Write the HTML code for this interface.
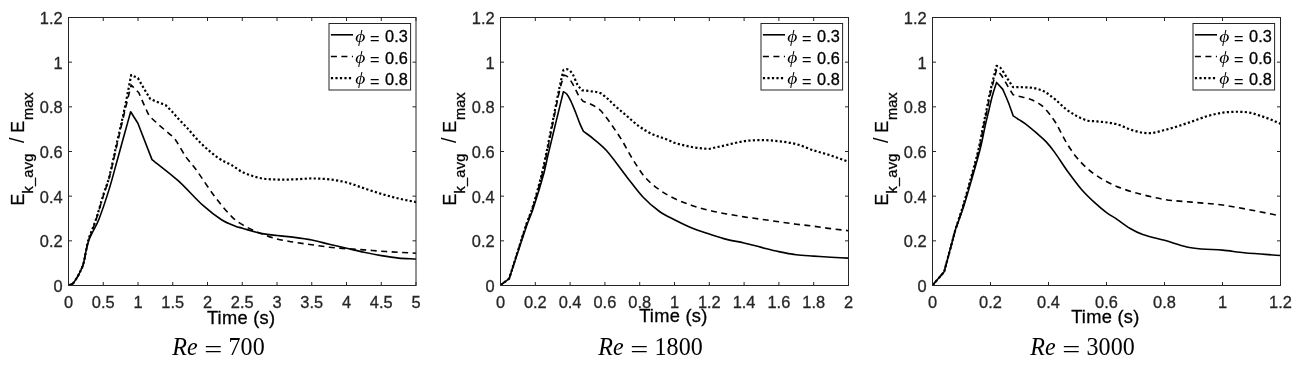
<!DOCTYPE html>
<html><head><meta charset="utf-8"><title>Kinetic energy decay</title>
<style>
html,body{margin:0;padding:0;background:#fff;}
body{width:1300px;height:367px;overflow:hidden;}
svg{display:block;}
.t{font-family:"Liberation Sans",sans-serif;font-size:16.4px;fill:#262626;stroke:#262626;stroke-width:0.3px;}
.l{font-family:"Liberation Sans",sans-serif;font-size:17.6px;fill:#000;stroke:#000;stroke-width:0.3px;}
.xl{font-size:18.3px;letter-spacing:0.25px;}
.s{font-size:14.6px;}
.c{font-family:"Liberation Serif",serif;font-size:25.6px;fill:#000;}
.lg{font-family:"Liberation Sans",sans-serif;font-size:16.3px;fill:#000;stroke:#000;stroke-width:0.3px;}
.phi{font-family:"Liberation Serif","DejaVu Serif",serif;font-style:italic;font-size:16.2px;fill:#000;}
.ax{stroke:#262626;stroke-width:1;fill:none;shape-rendering:auto;}
.cv{stroke:#000;stroke-width:1.6;fill:none;stroke-linejoin:round;}
</style></head><body>
<svg width="1300" height="367" viewBox="0 0 1300 367">
<rect x="0" y="0" width="1300" height="367" fill="#fff"/>

<g>
<path class="cv" d="M68.60 285.10 C69.94 284.65 71.29 284.76 72.63 283.76 C73.58 283.05 74.53 281.38 75.48 279.97 C76.43 278.56 77.38 277.03 78.33 275.28 C79.28 273.54 80.23 271.56 81.18 269.48 C81.83 268.07 82.48 266.92 83.13 264.80 C83.64 263.13 84.14 260.50 84.65 258.11 C85.09 256.04 85.53 253.48 85.97 251.41 C86.48 249.02 86.99 246.59 87.50 244.72 C88.13 242.43 88.75 240.47 89.38 238.92 C90.47 236.23 91.56 234.24 92.65 232.01 C94.71 227.77 96.77 224.88 98.83 219.51 C102.33 210.41 105.83 199.89 109.33 188.62 C111.97 180.11 114.61 169.68 117.25 160.17 C119.57 151.83 121.88 143.41 124.20 135.05 C126.35 127.28 128.51 119.53 130.66 111.76 L137.89 123.21 L152.00 159.62 C160.80 166.72 169.61 173.01 178.41 180.92 C186.61 188.29 194.81 198.07 203.01 205.46 C209.18 211.01 215.34 215.79 221.50 219.74 C226.13 222.70 230.77 224.32 235.40 226.21 C237.72 227.15 240.03 227.56 242.35 228.21 C248.14 229.86 253.93 231.89 259.73 233.12 C265.52 234.35 271.31 234.87 277.10 235.58 C282.89 236.28 288.68 236.62 294.48 237.36 C300.27 238.10 306.06 238.88 311.85 240.04 C317.64 241.19 323.43 242.90 329.23 244.28 C335.02 245.65 340.81 246.95 346.60 248.29 C352.39 249.63 358.18 251.08 363.98 252.31 C369.77 253.53 375.56 254.69 381.35 255.65 C387.14 256.62 392.93 257.55 398.73 258.11 C404.52 258.66 410.31 258.70 416.10 259.00"/>
<path class="cv" d="M68.60 285.10 C69.94 284.65 71.29 284.76 72.63 283.76 C73.58 283.05 74.53 281.38 75.48 279.97 C76.43 278.56 77.38 277.03 78.33 275.28 C79.28 273.54 80.23 271.56 81.18 269.48 C81.83 268.07 82.48 266.92 83.13 264.80 C83.64 263.13 84.14 260.50 84.65 258.11 C85.09 256.04 85.53 253.62 85.97 251.41 C86.44 249.09 86.90 246.42 87.36 244.50 C87.94 242.10 88.52 240.15 89.10 238.48 C90.14 235.46 91.19 233.29 92.23 230.44 C93.67 226.52 95.10 222.67 96.54 218.18 C98.90 210.78 101.26 202.29 103.63 194.75 C105.50 188.77 107.38 184.65 109.26 177.62 C111.81 168.07 114.35 155.92 116.90 145.00 C119.57 133.59 122.23 121.82 124.89 110.65 C127.00 101.81 129.11 93.55 131.22 84.99 L138.80 92.80 C140.72 97.19 142.64 101.69 144.56 105.96 C146.14 109.46 147.71 112.73 149.29 116.11 C151.54 118.16 153.78 120.23 156.03 122.25 C158.88 124.81 161.73 127.36 164.58 129.83 C166.48 131.48 168.38 132.95 170.28 134.63 C171.83 136.00 173.38 136.77 174.94 138.98 C178.57 144.17 182.21 151.54 185.85 156.83 C188.86 161.21 191.87 163.84 194.88 167.98 C201.67 177.30 208.46 188.25 215.24 197.21 C220.80 204.54 226.37 211.21 231.93 216.84 C235.40 220.35 238.88 222.61 242.35 224.64 C248.14 228.04 253.93 230.74 259.73 233.12 C265.52 235.50 271.31 237.40 277.10 238.92 C282.89 240.45 288.68 241.30 294.48 242.27 C300.27 243.23 306.06 243.90 311.85 244.72 C317.64 245.54 323.43 246.51 329.23 247.18 C335.02 247.85 340.81 248.29 346.60 248.74 C352.39 249.18 358.18 249.44 363.98 249.85 C369.77 250.26 375.56 250.78 381.35 251.19 C387.14 251.60 392.93 251.97 398.73 252.31 C404.52 252.64 410.31 252.90 416.10 253.20" stroke-dasharray="6 4.5"/>
<path class="cv" d="M68.60 285.10 C69.94 284.65 71.29 284.76 72.63 283.76 C73.58 283.05 74.53 281.38 75.48 279.97 C76.43 278.56 77.38 277.03 78.33 275.28 C79.28 273.54 80.23 271.56 81.18 269.48 C81.83 268.07 82.48 266.92 83.13 264.80 C83.64 263.13 84.14 260.50 84.65 258.11 C85.09 256.04 85.53 253.72 85.97 251.41 C86.42 249.11 86.86 246.25 87.30 244.28 C87.85 241.79 88.41 239.71 88.96 238.03 C90.01 234.88 91.05 232.57 92.09 229.78 C93.57 225.80 95.06 222.34 96.54 217.73 C98.90 210.37 101.26 201.44 103.63 193.86 C105.43 188.07 107.24 184.54 109.05 177.62 C111.55 168.03 114.05 155.43 116.55 144.33 C119.14 132.89 121.72 122.23 124.30 110.02 C126.60 99.11 128.91 86.65 131.22 74.96 L137.89 78.08 C139.79 81.35 141.69 84.67 143.59 87.89 C145.81 91.66 148.04 95.33 150.26 99.05 C152.81 100.09 155.36 101.17 157.91 102.17 C160.46 103.18 163.00 104.11 165.55 105.07 C167.78 107.30 170.00 109.38 172.22 111.76 C174.45 114.14 176.67 116.94 178.90 119.35 C181.68 122.36 184.46 125.03 187.24 128.05 C191.78 132.98 196.32 138.86 200.86 143.22 C206.77 148.90 212.67 153.97 218.58 158.17 C223.03 161.33 227.48 162.72 231.93 165.30 C235.40 167.33 238.88 170.41 242.35 172.00 C248.14 174.65 253.93 176.76 259.73 178.02 C265.52 179.28 271.31 179.36 277.10 179.58 C282.89 179.80 288.68 179.54 294.48 179.36 C300.27 179.17 306.06 178.47 311.85 178.47 C317.64 178.47 323.43 178.69 329.23 179.36 C335.02 180.03 340.81 180.99 346.60 182.48 C352.39 183.97 358.18 186.39 363.98 188.28 C369.77 190.18 375.56 192.15 381.35 193.86 C387.14 195.57 392.93 197.17 398.73 198.54 C404.52 199.92 410.31 200.92 416.10 202.11" stroke-dasharray="2.2 2.3" style="stroke-width:2.2"/>
<rect class="ax" x="68.50" y="17.50" width="347.50" height="268.00"/>
<path class="ax" d="M68.50 285.50 v-3.50 M68.50 17.50 v3.50 M103.25 285.50 v-3.50 M103.25 17.50 v3.50 M138.00 285.50 v-3.50 M138.00 17.50 v3.50 M172.75 285.50 v-3.50 M172.75 17.50 v3.50 M207.50 285.50 v-3.50 M207.50 17.50 v3.50 M242.25 285.50 v-3.50 M242.25 17.50 v3.50 M277.00 285.50 v-3.50 M277.00 17.50 v3.50 M311.75 285.50 v-3.50 M311.75 17.50 v3.50 M346.50 285.50 v-3.50 M346.50 17.50 v3.50 M381.25 285.50 v-3.50 M381.25 17.50 v3.50 M416.00 285.50 v-3.50 M416.00 17.50 v3.50 M68.50 285.50 h3.50 M416.00 285.50 h-3.50 M68.50 240.83 h3.50 M416.00 240.83 h-3.50 M68.50 196.17 h3.50 M416.00 196.17 h-3.50 M68.50 151.50 h3.50 M416.00 151.50 h-3.50 M68.50 106.83 h3.50 M416.00 106.83 h-3.50 M68.50 62.17 h3.50 M416.00 62.17 h-3.50 M68.50 17.50 h3.50 M416.00 17.50 h-3.50"/>
<text class="t" x="68.50" y="308" text-anchor="middle">0</text>
<text class="t" x="103.25" y="308" text-anchor="middle">0.5</text>
<text class="t" x="138.00" y="308" text-anchor="middle">1</text>
<text class="t" x="172.75" y="308" text-anchor="middle">1.5</text>
<text class="t" x="207.50" y="308" text-anchor="middle">2</text>
<text class="t" x="242.25" y="308" text-anchor="middle">2.5</text>
<text class="t" x="277.00" y="308" text-anchor="middle">3</text>
<text class="t" x="311.75" y="308" text-anchor="middle">3.5</text>
<text class="t" x="346.50" y="308" text-anchor="middle">4</text>
<text class="t" x="381.25" y="308" text-anchor="middle">4.5</text>
<text class="t" x="416.00" y="308" text-anchor="middle">5</text>
<text class="t" x="62.60" y="292.10" text-anchor="end">0</text>
<text class="t" x="62.60" y="247.43" text-anchor="end">0.2</text>
<text class="t" x="62.60" y="202.77" text-anchor="end">0.4</text>
<text class="t" x="62.60" y="158.10" text-anchor="end">0.6</text>
<text class="t" x="62.60" y="113.43" text-anchor="end">0.8</text>
<text class="t" x="62.60" y="68.77" text-anchor="end">1</text>
<text class="t" x="62.60" y="24.10" text-anchor="end">1.2</text>
<text class="l xl" x="241.05" y="323.90" text-anchor="middle">Time (s)</text>
<text class="l" transform="translate(23.60 0) rotate(-90)"><tspan x="-205.45" y="0">E</tspan><tspan class="s" x="-193.5" y="9.7" letter-spacing="0.2">k_avg</tspan><tspan x="-143.0" y="0.8" font-size="20" style="stroke-width:0">/</tspan><tspan x="-132.8" y="0">E</tspan><tspan class="s" x="-120.0" y="9.7">max</tspan></text>
<rect x="329.00" y="23.50" width="81.60" height="66.50" fill="#fff" stroke="#262626" stroke-width="1"/>
<path class="cv" d="M330.90 34.80 h22.1"/>
<text class="phi" transform="translate(355.20 41.50) scale(1.2 1)">ϕ</text>
<text class="lg" x="370.00" y="42.30"><tspan dy="1.6" style="stroke-width:0.1px">=</tspan><tspan dx="5.6" dy="-1.6">0.3</tspan></text>
<path class="cv" d="M330.90 56.45 h22.1" stroke-dasharray="6 4.5"/>
<text class="phi" transform="translate(355.20 62.80) scale(1.2 1)">ϕ</text>
<text class="lg" x="370.00" y="63.60"><tspan dy="1.6" style="stroke-width:0.1px">=</tspan><tspan dx="5.6" dy="-1.6">0.6</tspan></text>
<path class="cv" d="M330.90 78.10 h22.1" stroke-dasharray="2.2 2.3" style="stroke-width:2.2"/>
<text class="phi" transform="translate(355.20 84.10) scale(1.2 1)">ϕ</text>
<text class="lg" x="370.00" y="84.90"><tspan dy="1.6" style="stroke-width:0.1px">=</tspan><tspan dx="5.6" dy="-1.6">0.8</tspan></text>
<text class="c" transform="translate(172.20 354.8) scale(0.94 1)" font-style="italic">Re</text>
<text class="c" transform="translate(204.30 358.0) scale(1.25 1)">=</text>
<text class="c" transform="translate(228.60 354.8) scale(0.94 1)">700</text>
</g>
<g>
<path class="cv" d="M500.60 285.10 L509.19 278.59 C514.90 261.27 520.62 243.32 526.33 226.65 C528.59 220.06 530.85 215.65 533.11 208.81 C536.61 198.21 540.11 186.96 543.61 174.32 C545.11 168.89 546.61 160.94 548.11 154.60 C550.65 143.89 553.18 133.58 555.71 123.14 C558.27 112.61 560.82 102.17 563.38 91.69 C564.57 92.50 565.75 92.67 566.94 94.14 C568.21 95.72 569.48 98.16 570.75 100.83 C572.34 104.19 573.94 108.23 575.53 112.21 C577.11 116.16 578.69 120.82 580.28 124.61 C581.36 127.21 582.44 129.14 583.53 131.40 C586.71 133.78 589.90 135.86 593.09 138.53 C597.61 142.33 602.13 145.66 606.65 150.80 C613.37 158.45 620.09 168.36 626.82 176.90 C632.26 183.83 637.71 191.44 643.16 197.21 C648.60 202.97 654.05 207.56 659.50 211.48 C664.48 215.07 669.47 217.19 674.45 219.74 C680.25 222.70 686.04 225.61 691.84 227.99 C697.63 230.37 703.43 232.12 709.22 234.01 C715.01 235.91 720.81 237.88 726.61 239.37 C732.40 240.86 738.20 241.60 743.99 242.94 C749.78 244.28 755.58 245.95 761.38 247.40 C767.17 248.85 772.97 250.41 778.76 251.64 C784.55 252.86 790.35 254.02 796.14 254.76 C801.94 255.50 807.74 255.69 813.53 256.10 C819.32 256.51 825.12 256.88 830.91 257.21 C836.71 257.55 842.50 257.81 848.30 258.11"/>
<path class="cv" d="M500.60 285.10 L509.19 278.59 C514.90 260.68 520.62 242.12 526.33 224.87 C528.59 218.04 530.85 213.54 533.11 206.35 C536.15 196.69 539.18 186.06 542.22 174.32 C543.72 168.51 545.22 160.93 546.72 153.70 C548.87 143.35 551.02 132.12 553.17 121.58 C555.37 110.78 557.58 99.25 559.78 89.68 C561.15 83.73 562.51 79.91 563.88 75.02 C565.21 75.67 566.55 75.52 567.88 76.96 C569.79 79.03 571.70 82.23 573.62 85.53 C575.20 88.27 576.79 92.44 578.38 95.08 C579.96 97.71 581.54 99.26 583.13 101.35 C585.69 102.31 588.26 102.95 590.83 104.22 C593.67 105.63 596.51 107.06 599.35 109.38 C601.32 110.99 603.29 113.54 605.26 116.00 C607.11 118.32 608.97 120.99 610.82 123.70 C614.47 129.03 618.12 134.17 621.77 140.10 C625.25 145.74 628.73 152.81 632.20 158.39 C636.38 165.08 640.55 172.10 644.72 176.90 C649.65 182.58 654.57 186.26 659.50 189.84 C664.48 193.47 669.47 196.14 674.45 198.54 C680.25 201.34 686.04 203.49 691.84 205.46 C697.63 207.43 703.43 208.95 709.22 210.37 C715.01 211.78 720.81 212.86 726.61 213.94 C732.40 215.01 738.20 215.94 743.99 216.84 C749.78 217.73 755.58 218.47 761.38 219.29 C767.17 220.11 772.97 220.93 778.76 221.74 C784.55 222.56 790.35 223.45 796.14 224.20 C801.94 224.94 807.74 225.46 813.53 226.21 C819.32 226.95 825.12 227.92 830.91 228.66 C836.71 229.40 842.50 230.00 848.30 230.67" stroke-dasharray="6 4.5"/>
<path class="cv" d="M500.60 285.10 L509.19 278.59 C514.90 260.53 520.62 241.83 526.33 224.42 C528.59 217.53 530.85 213.05 533.11 205.68 C535.97 196.35 538.84 185.68 541.70 174.32 C543.20 168.36 544.70 160.93 546.20 153.70 C548.35 143.35 550.50 132.29 552.65 121.58 C554.97 110.03 557.29 97.95 559.60 86.91 C560.90 80.73 562.20 75.58 563.50 69.91 C564.96 69.74 566.42 68.71 567.88 69.38 C569.47 70.11 571.07 71.59 572.66 74.13 C574.25 76.67 575.85 81.89 577.44 84.62 C579.01 87.29 580.57 88.44 582.14 90.35 C585.03 90.65 587.93 90.80 590.83 91.24 C593.99 91.72 597.14 91.69 600.30 93.11 C602.82 94.25 605.34 96.73 607.87 98.91 C610.13 100.87 612.39 103.48 614.65 105.52 C618.30 108.81 621.95 111.78 625.60 114.89 C630.06 118.69 634.52 123.05 638.98 126.26 C643.39 129.44 647.79 132.00 652.20 134.07 C657.30 136.47 662.40 137.66 667.50 139.65 C669.81 140.56 672.13 142.07 674.45 142.77 C680.25 144.53 686.04 145.95 691.84 147.01 C697.43 148.03 703.02 148.35 708.61 149.02 C714.61 147.68 720.61 146.33 726.61 145.00 C732.40 143.72 738.20 142.03 743.99 141.21 C749.78 140.39 755.58 140.10 761.38 140.10 C767.17 140.10 772.97 140.54 778.76 141.21 C784.55 141.88 790.35 142.59 796.14 144.11 C801.94 145.64 807.74 148.46 813.53 150.36 C819.32 152.25 825.12 153.59 830.91 155.49 C836.71 157.38 842.50 159.65 848.30 161.73" stroke-dasharray="2.2 2.3" style="stroke-width:2.2"/>
<rect class="ax" x="500.50" y="17.50" width="348.00" height="268.00"/>
<path class="ax" d="M500.50 285.50 v-3.50 M500.50 17.50 v3.50 M535.30 285.50 v-3.50 M535.30 17.50 v3.50 M570.10 285.50 v-3.50 M570.10 17.50 v3.50 M604.90 285.50 v-3.50 M604.90 17.50 v3.50 M639.70 285.50 v-3.50 M639.70 17.50 v3.50 M674.50 285.50 v-3.50 M674.50 17.50 v3.50 M709.30 285.50 v-3.50 M709.30 17.50 v3.50 M744.10 285.50 v-3.50 M744.10 17.50 v3.50 M778.90 285.50 v-3.50 M778.90 17.50 v3.50 M813.70 285.50 v-3.50 M813.70 17.50 v3.50 M848.50 285.50 v-3.50 M848.50 17.50 v3.50 M500.50 285.50 h3.50 M848.50 285.50 h-3.50 M500.50 240.83 h3.50 M848.50 240.83 h-3.50 M500.50 196.17 h3.50 M848.50 196.17 h-3.50 M500.50 151.50 h3.50 M848.50 151.50 h-3.50 M500.50 106.83 h3.50 M848.50 106.83 h-3.50 M500.50 62.17 h3.50 M848.50 62.17 h-3.50 M500.50 17.50 h3.50 M848.50 17.50 h-3.50"/>
<text class="t" x="500.50" y="308" text-anchor="middle">0</text>
<text class="t" x="535.30" y="308" text-anchor="middle">0.2</text>
<text class="t" x="570.10" y="308" text-anchor="middle">0.4</text>
<text class="t" x="604.90" y="308" text-anchor="middle">0.6</text>
<text class="t" x="639.70" y="308" text-anchor="middle">0.8</text>
<text class="t" x="674.50" y="308" text-anchor="middle">1</text>
<text class="t" x="709.30" y="308" text-anchor="middle">1.2</text>
<text class="t" x="744.10" y="308" text-anchor="middle">1.4</text>
<text class="t" x="778.90" y="308" text-anchor="middle">1.6</text>
<text class="t" x="813.70" y="308" text-anchor="middle">1.8</text>
<text class="t" x="848.50" y="308" text-anchor="middle">2</text>
<text class="t" x="494.60" y="292.10" text-anchor="end">0</text>
<text class="t" x="494.60" y="247.43" text-anchor="end">0.2</text>
<text class="t" x="494.60" y="202.77" text-anchor="end">0.4</text>
<text class="t" x="494.60" y="158.10" text-anchor="end">0.6</text>
<text class="t" x="494.60" y="113.43" text-anchor="end">0.8</text>
<text class="t" x="494.60" y="68.77" text-anchor="end">1</text>
<text class="t" x="494.60" y="24.10" text-anchor="end">1.2</text>
<text class="l xl" x="673.30" y="322.40" text-anchor="middle">Time (s)</text>
<text class="l" transform="translate(455.60 0) rotate(-90)"><tspan x="-205.45" y="0">E</tspan><tspan class="s" x="-193.5" y="9.7" letter-spacing="0.2">k_avg</tspan><tspan x="-143.0" y="0.8" font-size="20" style="stroke-width:0">/</tspan><tspan x="-132.8" y="0">E</tspan><tspan class="s" x="-120.0" y="9.7">max</tspan></text>
<rect x="761.00" y="23.50" width="81.60" height="66.50" fill="#fff" stroke="#262626" stroke-width="1"/>
<path class="cv" d="M762.90 34.80 h22.1"/>
<text class="phi" transform="translate(787.20 41.50) scale(1.2 1)">ϕ</text>
<text class="lg" x="802.00" y="42.30"><tspan dy="1.6" style="stroke-width:0.1px">=</tspan><tspan dx="5.6" dy="-1.6">0.3</tspan></text>
<path class="cv" d="M762.90 56.45 h22.1" stroke-dasharray="6 4.5"/>
<text class="phi" transform="translate(787.20 62.80) scale(1.2 1)">ϕ</text>
<text class="lg" x="802.00" y="63.60"><tspan dy="1.6" style="stroke-width:0.1px">=</tspan><tspan dx="5.6" dy="-1.6">0.6</tspan></text>
<path class="cv" d="M762.90 78.10 h22.1" stroke-dasharray="2.2 2.3" style="stroke-width:2.2"/>
<text class="phi" transform="translate(787.20 84.10) scale(1.2 1)">ϕ</text>
<text class="lg" x="802.00" y="84.90"><tspan dy="1.6" style="stroke-width:0.1px">=</tspan><tspan dx="5.6" dy="-1.6">0.8</tspan></text>
<text class="c" transform="translate(598.20 354.8) scale(0.94 1)" font-style="italic">Re</text>
<text class="c" transform="translate(630.30 358.0) scale(1.25 1)">=</text>
<text class="c" transform="translate(654.60 354.8) scale(0.94 1)">1800</text>
</g>
<g>
<path class="cv" d="M932.70 285.10 L944.17 271.78 L955.45 229.55 C958.16 221.97 960.87 215.22 963.59 206.80 C966.48 197.84 969.36 187.50 972.25 177.42 C974.97 167.91 977.70 158.89 980.42 148.02 C982.04 141.54 983.67 132.61 985.29 125.37 C986.53 119.86 987.76 114.95 989.00 109.76 C990.10 105.13 991.20 99.90 992.30 95.93 C993.72 90.79 995.14 86.93 996.56 82.43 L1002.65 89.12 C1004.56 93.57 1006.47 97.59 1008.38 102.46 C1009.97 106.49 1011.55 111.37 1013.13 115.82 C1015.05 117.09 1016.96 118.38 1018.87 119.62 C1020.96 120.97 1023.04 122.00 1025.13 123.59 C1028.90 126.45 1032.66 129.69 1036.43 132.96 C1039.62 135.72 1042.81 138.27 1045.99 141.66 C1048.89 144.74 1051.79 148.39 1054.68 152.37 C1058.84 158.06 1062.99 164.92 1067.14 170.66 C1071.88 177.19 1076.61 183.71 1081.34 189.17 C1086.07 194.64 1090.81 199.05 1095.54 203.45 C1099.21 206.86 1102.88 209.89 1106.55 212.60 C1109.93 215.09 1113.31 216.79 1116.69 219.07 C1121.04 222.00 1125.38 225.65 1129.73 228.21 C1134.08 230.78 1138.42 232.94 1142.77 234.46 C1150.01 236.99 1157.26 238.29 1164.50 240.35 C1171.94 242.46 1179.37 245.23 1186.81 246.95 C1191.74 248.10 1196.66 248.52 1201.59 248.96 C1208.54 249.59 1215.50 249.55 1222.45 250.17 C1229.69 250.81 1236.94 252.09 1244.18 252.75 C1256.25 253.85 1268.33 254.54 1280.40 255.43"/>
<path class="cv" d="M932.70 285.10 L944.17 271.78 L955.45 229.55 C957.97 221.97 960.49 214.97 963.01 206.80 C965.85 197.59 968.69 187.63 971.53 177.42 C974.13 168.04 976.74 159.04 979.35 148.02 C980.85 141.69 982.34 132.69 983.84 125.37 C984.95 119.94 986.06 115.17 987.17 109.76 C988.14 105.05 989.10 99.16 990.07 95.03 C992.23 85.78 994.40 78.09 996.56 69.62 C998.27 71.67 999.98 73.21 1001.69 75.76 C1003.92 79.08 1006.15 83.51 1008.38 87.23 C1009.97 89.86 1011.55 92.28 1013.13 94.81 C1015.68 95.44 1018.23 96.05 1020.78 96.71 C1023.96 97.52 1027.14 98.03 1030.32 99.20 C1032.86 100.15 1035.40 101.47 1037.94 103.06 C1040.16 104.46 1042.38 105.75 1044.60 108.19 C1048.25 112.22 1051.90 116.75 1055.55 122.47 C1058.69 127.39 1061.83 134.80 1064.97 140.10 C1068.40 145.88 1071.83 151.35 1075.26 155.71 C1079.31 160.87 1083.37 165.01 1087.43 168.65 C1091.48 172.29 1095.54 175.12 1099.60 177.57 C1105.29 181.03 1110.99 183.99 1116.69 186.39 C1123.21 189.12 1129.73 191.19 1136.25 192.97 C1145.67 195.54 1155.08 197.88 1164.50 199.44 C1173.58 200.93 1182.66 201.24 1191.74 202.11 C1201.97 203.10 1212.21 203.65 1222.45 205.01 C1231.82 206.26 1241.19 208.17 1250.56 209.92 C1260.50 211.78 1270.45 213.86 1280.40 215.83" stroke-dasharray="6 4.5"/>
<path class="cv" d="M932.70 285.10 L944.17 271.78 L955.45 229.55 C957.87 221.97 960.29 214.88 962.72 206.80 C965.51 197.50 968.30 187.60 971.09 177.42 C973.67 168.01 976.25 159.04 978.83 148.02 C980.31 141.70 981.78 132.68 983.26 125.37 C984.36 119.93 985.46 115.19 986.56 109.76 C987.51 105.08 988.46 99.19 989.40 95.03 C991.79 84.55 994.18 75.55 996.56 65.81 C997.96 66.58 999.36 66.48 1000.76 68.13 C1002.98 70.75 1005.21 75.19 1007.43 78.61 C1009.33 81.55 1011.23 84.35 1013.13 87.23 C1016.32 87.23 1019.51 87.13 1022.70 87.23 C1025.87 87.32 1029.05 87.35 1032.23 87.81 C1034.77 88.17 1037.31 88.92 1039.85 89.70 C1041.43 90.19 1043.02 90.61 1044.60 91.62 C1048.25 93.95 1051.90 96.73 1055.55 99.72 C1058.74 102.33 1061.93 105.96 1065.12 108.42 C1068.98 111.39 1072.84 113.93 1076.71 116.00 C1080.47 118.02 1084.24 119.69 1088.01 120.69 C1091.00 121.48 1093.99 121.00 1096.99 121.36 C1103.36 122.12 1109.74 122.46 1116.11 124.03 C1121.18 125.29 1126.25 128.18 1131.32 129.83 C1135.14 131.08 1138.95 132.17 1142.77 132.73 C1145.96 133.21 1149.14 133.33 1152.33 132.96 C1156.10 132.51 1159.86 131.26 1163.63 130.28 C1168.12 129.11 1172.61 127.88 1177.10 126.49 C1182.17 124.91 1187.25 123.10 1192.32 121.36 C1197.43 119.60 1202.55 117.46 1207.67 116.00 C1212.74 114.56 1217.81 113.36 1222.88 112.66 C1227.96 111.95 1233.03 111.76 1238.10 111.76 C1241.96 111.76 1245.82 111.94 1249.69 112.66 C1253.45 113.35 1257.22 114.75 1260.99 116.00 C1264.85 117.28 1268.71 118.69 1272.58 120.24 C1275.18 121.29 1277.79 122.62 1280.40 123.81" stroke-dasharray="2.2 2.3" style="stroke-width:2.2"/>
<rect class="ax" x="932.50" y="17.50" width="348.00" height="268.00"/>
<path class="ax" d="M932.50 285.50 v-3.50 M932.50 17.50 v3.50 M990.50 285.50 v-3.50 M990.50 17.50 v3.50 M1048.50 285.50 v-3.50 M1048.50 17.50 v3.50 M1106.50 285.50 v-3.50 M1106.50 17.50 v3.50 M1164.50 285.50 v-3.50 M1164.50 17.50 v3.50 M1222.50 285.50 v-3.50 M1222.50 17.50 v3.50 M1280.50 285.50 v-3.50 M1280.50 17.50 v3.50 M932.50 285.50 h3.50 M1280.50 285.50 h-3.50 M932.50 240.83 h3.50 M1280.50 240.83 h-3.50 M932.50 196.17 h3.50 M1280.50 196.17 h-3.50 M932.50 151.50 h3.50 M1280.50 151.50 h-3.50 M932.50 106.83 h3.50 M1280.50 106.83 h-3.50 M932.50 62.17 h3.50 M1280.50 62.17 h-3.50 M932.50 17.50 h3.50 M1280.50 17.50 h-3.50"/>
<text class="t" x="932.50" y="308" text-anchor="middle">0</text>
<text class="t" x="990.50" y="308" text-anchor="middle">0.2</text>
<text class="t" x="1048.50" y="308" text-anchor="middle">0.4</text>
<text class="t" x="1106.50" y="308" text-anchor="middle">0.6</text>
<text class="t" x="1164.50" y="308" text-anchor="middle">0.8</text>
<text class="t" x="1222.50" y="308" text-anchor="middle">1</text>
<text class="t" x="1280.50" y="308" text-anchor="middle">1.2</text>
<text class="t" x="926.60" y="292.10" text-anchor="end">0</text>
<text class="t" x="926.60" y="247.43" text-anchor="end">0.2</text>
<text class="t" x="926.60" y="202.77" text-anchor="end">0.4</text>
<text class="t" x="926.60" y="158.10" text-anchor="end">0.6</text>
<text class="t" x="926.60" y="113.43" text-anchor="end">0.8</text>
<text class="t" x="926.60" y="68.77" text-anchor="end">1</text>
<text class="t" x="926.60" y="24.10" text-anchor="end">1.2</text>
<text class="l xl" x="1105.30" y="323.20" text-anchor="middle">Time (s)</text>
<text class="l" transform="translate(887.60 0) rotate(-90)"><tspan x="-205.45" y="0">E</tspan><tspan class="s" x="-193.5" y="9.7" letter-spacing="0.2">k_avg</tspan><tspan x="-143.0" y="0.8" font-size="20" style="stroke-width:0">/</tspan><tspan x="-132.8" y="0">E</tspan><tspan class="s" x="-120.0" y="9.7">max</tspan></text>
<rect x="1193.00" y="23.50" width="81.60" height="66.50" fill="#fff" stroke="#262626" stroke-width="1"/>
<path class="cv" d="M1194.90 34.80 h22.1"/>
<text class="phi" transform="translate(1219.20 41.50) scale(1.2 1)">ϕ</text>
<text class="lg" x="1234.00" y="42.30"><tspan dy="1.6" style="stroke-width:0.1px">=</tspan><tspan dx="5.6" dy="-1.6">0.3</tspan></text>
<path class="cv" d="M1194.90 56.45 h22.1" stroke-dasharray="6 4.5"/>
<text class="phi" transform="translate(1219.20 62.80) scale(1.2 1)">ϕ</text>
<text class="lg" x="1234.00" y="63.60"><tspan dy="1.6" style="stroke-width:0.1px">=</tspan><tspan dx="5.6" dy="-1.6">0.6</tspan></text>
<path class="cv" d="M1194.90 78.10 h22.1" stroke-dasharray="2.2 2.3" style="stroke-width:2.2"/>
<text class="phi" transform="translate(1219.20 84.10) scale(1.2 1)">ϕ</text>
<text class="lg" x="1234.00" y="84.90"><tspan dy="1.6" style="stroke-width:0.1px">=</tspan><tspan dx="5.6" dy="-1.6">0.8</tspan></text>
<text class="c" transform="translate(1030.20 354.8) scale(0.94 1)" font-style="italic">Re</text>
<text class="c" transform="translate(1062.30 358.0) scale(1.25 1)">=</text>
<text class="c" transform="translate(1086.60 354.8) scale(0.94 1)">3000</text>
</g>
</svg>
</body></html>
